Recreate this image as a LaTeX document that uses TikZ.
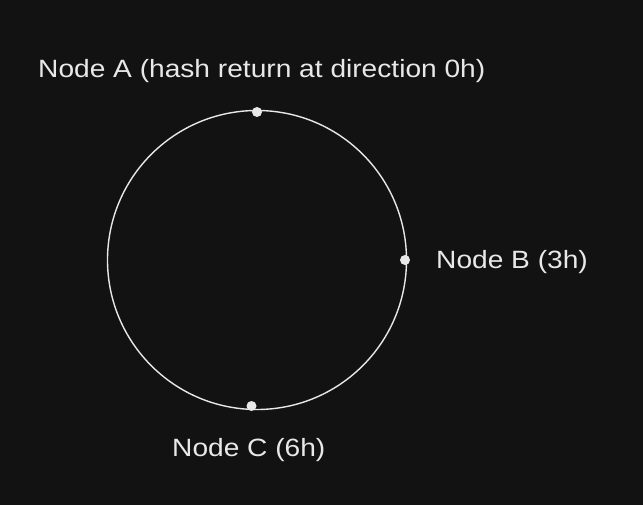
\documentclass[tikz,border=0pt]{standalone}
\usepackage{fontspec}
\setmainfont{Liberation Sans}
\newfontfamily\widefont[FakeStretch=1.125]{Liberation Sans}
\definecolor{bg}{HTML}{121212}
\definecolor{fg}{HTML}{E8E8E8}
\begin{document}
\begin{tikzpicture}[x=1pt,y=-1pt,
  lbl/.style={text=fg,font=\widefont\fontsize{25}{30}\selectfont,anchor=base west,inner sep=0pt},
  dot/.style={circle,fill=fg,draw=none,minimum size=10pt,inner sep=0pt}]
\fill[bg] (0,0) rectangle (643,505);
\useasboundingbox (0,0) rectangle (643,505);
\coordinate (ctr) at (257,260);
\draw[fg,line width=1.4pt] (ctr) circle[radius=149.5];
\node[dot] (dA) at (257,112) {};
\node[dot] (dB) at (405,260) {};
\node[dot] (dC) at (251.5,406) {};
\node[lbl] (tA) at (38,78) {Node A (hash return at direction 0h)};
\node[lbl] (tB) at (436,269) {Node B (3h)};
\node[lbl] (tC) at (172,456) {Node C (6h)};
\end{tikzpicture}
\end{document}
